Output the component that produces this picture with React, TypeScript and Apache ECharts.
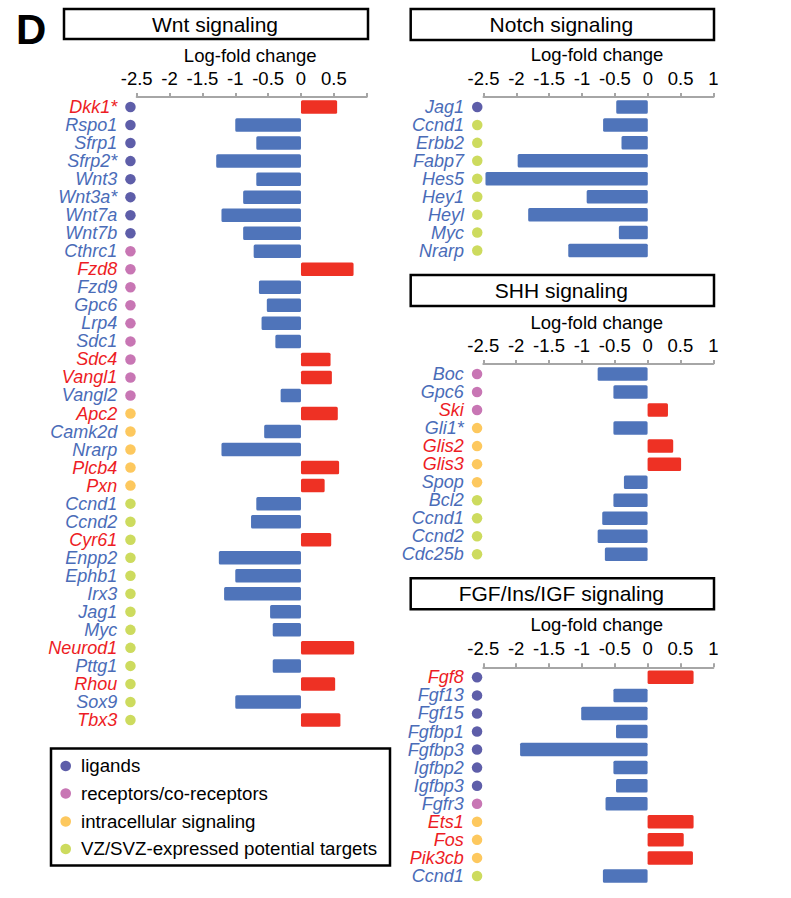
import React, { useEffect, useRef } from "react";
import * as echarts from "echarts";

// ---------- data ----------
const wntGenes = ["Dkk1*", "Rspo1", "Sfrp1", "Sfrp2*", "Wnt3", "Wnt3a*", "Wnt7a", "Wnt7b", "Cthrc1", "Fzd8", "Fzd9", "Gpc6", "Lrp4", "Sdc1", "Sdc4", "Vangl1", "Vangl2", "Apc2", "Camk2d", "Nrarp", "Plcb4", "Pxn", "Ccnd1", "Ccnd2", "Cyr61", "Enpp2", "Ephb1", "Irx3", "Jag1", "Myc", "Neurod1", "Pttg1", "Rhou", "Sox9", "Tbx3"];
const wntValues = [0.55, -1.0, -0.68, -1.29, -0.68, -0.88, -1.21, -0.88, -0.72, 0.8, -0.64, -0.52, -0.6, -0.39, 0.45, 0.47, -0.31, 0.56, -0.56, -1.21, 0.58, 0.36, -0.68, -0.76, 0.46, -1.25, -1.0, -1.17, -0.47, -0.43, 0.81, -0.43, 0.52, -1.0, 0.6];
const wntGroups = ["L", "L", "L", "L", "L", "L", "L", "L", "R", "R", "R", "R", "R", "R", "R", "R", "R", "I", "I", "I", "I", "I", "V", "V", "V", "V", "V", "V", "V", "V", "V", "V", "V", "V", "V"];

const notchGenes = ["Jag1", "Ccnd1", "Erbb2", "Fabp7", "Hes5", "Hey1", "Heyl", "Myc", "Nrarp"];
const notchValues = [-0.48, -0.68, -0.4, -1.98, -2.47, -0.93, -1.82, -0.44, -1.21];
const notchGroups = ["L", "V", "V", "V", "V", "V", "V", "V", "V"];

const shhGenes = ["Boc", "Gpc6", "Ski", "Gli1*", "Glis2", "Glis3", "Spop", "Bcl2", "Ccnd1", "Ccnd2", "Cdc25b"];
const shhValues = [-0.76, -0.52, 0.31, -0.52, 0.39, 0.51, -0.36, -0.52, -0.69, -0.76, -0.65];
const shhGroups = ["R", "R", "R", "I", "I", "I", "I", "V", "V", "V", "V"];

const fgfGenes = ["Fgf8", "Fgf13", "Fgf15", "Fgfbp1", "Fgfbp3", "Igfbp2", "Igfbp3", "Fgfr3", "Ets1", "Fos", "Pik3cb", "Ccnd1"];
const fgfValues = [0.7, -0.52, -1.01, -0.48, -1.94, -0.52, -0.48, -0.64, 0.7, 0.55, 0.69, -0.68];
const fgfGroups = ["L", "L", "L", "L", "L", "L", "L", "R", "I", "I", "I", "V"];

const panelTitles = ["Wnt signaling", "Notch signaling", "SHH signaling", "FGF/Ins/IGF signaling"];
const axisTitle = "Log-fold change";
const legendGroups = ["L", "R", "I", "V"];
const legendLabels = ["ligands", "receptors/co-receptors", "intracellular signaling", "VZ/SVZ-expressed potential targets"];

// ---------- styles ----------
const FONT = "'Liberation Sans', Arial, Helvetica, sans-serif";
const BAR_BLUE = "#4F74BA";
const BAR_RED = "#EE3124";
const TXT_BLUE = "#4A6CB8";
const TXT_RED = "#ED1C24";
const AXIS_GREY = "#A6A6A6";
const GROUP_COLORS: Record<string, string> = { L: "#5E5EA9", R: "#C876B4", I: "#FDC85E", V: "#CDDB5E" };

const layout = [
  { left: 136.7, top: 98, width: 230, height: 631, hideMax: true, box: [64, 9, 304, 30], labelY: 55 },
  { left: 483.5, top: 98, width: 230, height: 161.5, hideMax: false, box: [410.7, 9, 303.3, 31], labelY: 54 },
  { left: 483.3, top: 365, width: 230, height: 198.3, hideMax: false, box: [410.7, 275, 303.3, 31], labelY: 322 },
  { left: 483.3, top: 668.3, width: 230, height: 216.7, hideMax: false, box: [410.7, 578.3, 303.3, 31], labelY: 624 },
];

const panelsData = [
  { genes: wntGenes, values: wntValues, groups: wntGroups },
  { genes: notchGenes, values: notchValues, groups: notchGroups },
  { genes: shhGenes, values: shhValues, groups: shhGroups },
  { genes: fgfGenes, values: fgfValues, groups: fgfGroups },
];

function buildOption() {
  const grid: any[] = [];
  const xAxis: any[] = [];
  const yAxis: any[] = [];
  const series: any[] = [];
  const graphic: any[] = [];

  const rich: any = {
    nU: { color: TXT_RED, fontStyle: "italic", fontSize: 18, fontFamily: FONT, lineHeight: 18 },
    nD: { color: TXT_BLUE, fontStyle: "italic", fontSize: 18, fontFamily: FONT, lineHeight: 18 },
    g: { width: 8, fontSize: 10 },
  };
  Object.keys(GROUP_COLORS).forEach((k) => {
    rich["d" + k] = { width: 10.5, height: 10.5, borderRadius: 5.25, backgroundColor: GROUP_COLORS[k], fontSize: 8 };
  });

  panelsData.forEach((p, i) => {
    const L = layout[i];
    grid.push({ left: L.left, top: L.top, width: L.width, height: L.height, containLabel: false });
    xAxis.push({
      gridIndex: i,
      type: "value",
      position: "top",
      min: -2.5,
      max: 1,
      interval: 0.5,
      offset: 1,
      axisLine: { show: true, lineStyle: { color: AXIS_GREY, width: 2 } },
      axisTick: { show: true, length: 4, lineStyle: { color: AXIS_GREY, width: 2 } },
      splitLine: { show: false },
      axisLabel: {
        fontSize: 18.5,
        fontFamily: FONT,
        color: "#000",
        margin: 9,
        formatter: (v: number) => (L.hideMax && v === 1 ? "" : String(v)),
      },
    });
    yAxis.push({
      gridIndex: i,
      type: "category",
      inverse: true,
      data: p.genes,
      axisLine: { show: false },
      axisTick: { show: false },
      splitLine: { show: false },
      axisLabel: {
        margin: 1,
        interval: 0,
        formatter: (name: string, idx: number) => {
          const up = p.values[idx] > 0;
          return `{${up ? "nU" : "nD"}|${name}}{g| }{d${p.groups[idx]}| }`;
        },
        rich,
      },
    });
    series.push({
      type: "bar",
      xAxisIndex: i,
      yAxisIndex: i,
      barWidth: 13.5,
      data: p.values.map((v) => ({
        value: v,
        itemStyle: { color: v > 0 ? BAR_RED : BAR_BLUE, borderRadius: 1.5 },
      })),
    });

    // title box
    const [bx, by, bw, bh] = L.box;
    graphic.push({
      type: "rect",
      shape: { x: bx, y: by, width: bw, height: bh },
      style: { fill: "#fff", stroke: "#000", lineWidth: 2.5 },
    });
    graphic.push({
      type: "text",
      x: bx + bw / 2 - 1,
      y: by + bh / 2,
      style: { text: panelTitles[i], fontSize: 21, fontFamily: FONT, fill: "#000", align: "center", verticalAlign: "middle" },
    });
    graphic.push({
      type: "text",
      x: L.left + L.width / 2 - 1.5,
      y: L.labelY,
      style: { text: axisTitle, fontSize: 18.5, fontFamily: FONT, fill: "#000", align: "center", verticalAlign: "middle" },
    });
  });

  // panel letter
  graphic.push({
    type: "text",
    x: 16,
    y: 29,
    style: { text: "D", fontSize: 42, fontWeight: "bold", fontFamily: FONT, fill: "#000", align: "left", verticalAlign: "middle" },
  });

  // legend box
  graphic.push({
    type: "rect",
    shape: { x: 51, y: 748.5, width: 339, height: 117 },
    style: { fill: "#fff", stroke: "#000", lineWidth: 2.5 },
  });
  const legendYs = [765.5, 793, 821, 848.5];
  legendGroups.forEach((g, k) => {
    graphic.push({
      type: "circle",
      shape: { cx: 65.7, cy: legendYs[k] + 0.5, r: 5.3 },
      style: { fill: GROUP_COLORS[g] },
    });
    graphic.push({
      type: "text",
      x: 81,
      y: legendYs[k],
      style: { text: legendLabels[k], fontSize: 18.7, fontFamily: FONT, fill: "#000", align: "left", verticalAlign: "middle" },
    });
  });

  return { animation: false, backgroundColor: "#fff", grid, xAxis, yAxis, series, graphic };
}

export default function App() {
  const ref = useRef<HTMLDivElement>(null);
  useEffect(() => {
    document.body.style.margin = "0";
    if (!ref.current) return;
    const chart = echarts.init(ref.current, undefined, { renderer: "svg" });
    chart.setOption(buildOption() as any);
    return () => chart.dispose();
  }, []);
  return <div ref={ref} style={{ width: 791, height: 898 }} />;
}
